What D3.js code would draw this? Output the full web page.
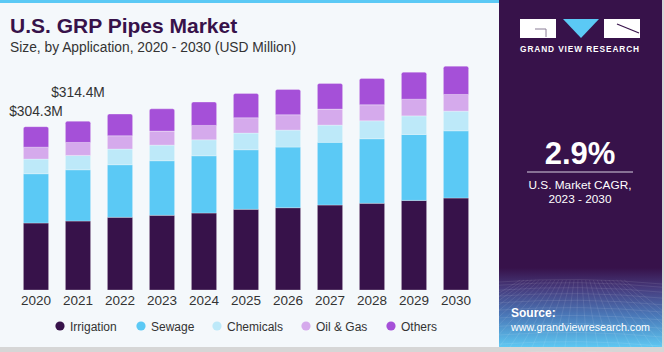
<!DOCTYPE html>
<html lang="en">

<head>
    <meta charset="UTF-8">
    <title>U.S. GRP Pipes Market</title>
    <style>
        body { margin: 0; background: #d6d6d6; }
        svg { display: block; font-family: "Liberation Sans", Arial, sans-serif; }
    </style>
</head>

<body>
    <script src="https://d3js.org/d3.v7.min.js"></script>
    <script>
        const years = ["2020", "2021", "2022", "2023", "2024", "2025", "2026", "2027", "2028", "2029", "2030"];
        const irrigation = [124.8, 128.5, 135.4, 139.1, 143.4, 150.3, 153.3, 158.3, 161.5, 167.0, 171.3];
        const sewage = [91.8, 95.5, 98.0, 101.7, 106.7, 111.0, 113.0, 116.8, 120.3, 122.9, 125.3];
        const chemicals = [27.3, 26.8, 29.2, 29.2, 29.8, 31.1, 31.7, 32.2, 33.5, 34.6, 36.7];
        const oilGas = [22.3, 24.2, 24.8, 26.1, 26.8, 28.5, 28.5, 29.8, 29.8, 31.1, 31.1];
        const others = [38.1, 39.4, 40.4, 41.5, 43.4, 45.4, 47.3, 47.9, 49.2, 50.3, 52.7];
        const seriesNames = ["Irrigation", "Sewage", "Chemicals", "Oil & Gas", "Others"];
        const seriesColors = ["#37124a", "#5bc9f5", "#bde9f9", "#d5aaec", "#a550d8"];
        const totalLabels = ["$304.3M", "$314.4M"];

        const width = 664;
        const height = 352;

        // build rows for d3.stack
        const keys = ["irrigation", "sewage", "chemicals", "oilGas", "others"];
        const rows = years.map((yr, i) => ({
            year: yr,
            irrigation: irrigation[i],
            sewage: sewage[i],
            chemicals: chemicals[i],
            oilGas: oilGas[i],
            others: others[i]
        }));
        const stacked = d3.stack().keys(keys)(rows);

        const svg = d3.select("body").append("svg")
            .attr("width", width)
            .attr("height", height);

        // card background
        svg.append("rect").attr("x", 0).attr("y", 0).attr("width", 662).attr("height", 347).attr("fill", "#f4f8fb");
        svg.append("rect").attr("x", 0).attr("y", 0).attr("width", 499).attr("height", 3).attr("fill", "#5bc9f5");

        // title
        svg.append("text").attr("x", 10).attr("y", 33)
            .text("U.S. GRP Pipes Market")
            .attr("font-size", 21).attr("font-weight", "bold").attr("fill", "#37124a");
        svg.append("text").attr("x", 10).attr("y", 52)
            .text("Size, by Application, 2020 - 2030 (USD Million)")
            .attr("font-size", 13.8).attr("fill", "#333");

        let x = d3.scaleBand()
            .domain(years)
            .range([15, 477])
            .paddingInner(0.4)
            .paddingOuter(0.2);

        let y = d3.scaleLinear()
            .domain([0, 304.3])
            .range([290, 126.7]);

        let color = d3.scaleOrdinal().domain(keys).range(seriesColors);

        const r = 2;
        function topPath(x0, y0, w, h) {
            return `M${x0},${y0 + h}V${y0 + r}Q${x0},${y0} ${x0 + r},${y0}H${x0 + w - r}Q${x0 + w},${y0} ${x0 + w},${y0 + r}V${y0 + h}Z`;
        }

        let layers = svg.append("g").selectAll("g")
            .data(stacked)
            .enter()
            .append("g")
            .attr("fill", d => color(d.key));

        layers.selectAll("path")
            .data(d => d.map(v => Object.assign(v, { key: d.key })))
            .enter()
            .append("path")
            .attr("d", d => {
                let x0 = x(d.data.year), w = x.bandwidth();
                let y0 = y(d[1]), h = y(d[0]) - y(d[1]);
                if (d.key === "others") return topPath(x0, y0, w, h);
                return `M${x0},${y0}h${w}v${h}h${-w}Z`;
            })
            .attr("stroke", "rgba(255,255,255,0.35)")
            .attr("stroke-width", 0.8);

        // total labels for first two years
        const lift = [11, 24];
        svg.append("g").selectAll("text")
            .data(totalLabels)
            .enter()
            .append("text")
            .attr("x", (d, i) => x(years[i]) + x.bandwidth() / 2)
            .attr("y", (d, i) => y(stacked[stacked.length - 1][i][1]) - lift[i])
            .attr("text-anchor", "middle")
            .attr("font-size", 13.8)
            .attr("fill", "#333")
            .text(d => d);

        // x axis labels
        let xAxis = d3.axisBottom(x).tickSize(0).tickPadding(5);
        let gx = svg.append("g").attr("transform", "translate(0,290)").call(xAxis);
        gx.select(".domain").remove();
        gx.selectAll("text").attr("font-size", 13.5).attr("fill", "#333")
            .attr("font-family", "Liberation Sans, Arial, sans-serif");

        // legend
        const legendX = [60, 141, 217, 306, 391];
        let legend = svg.append("g").selectAll("g")
            .data(seriesNames)
            .enter()
            .append("g")
            .attr("transform", (d, i) => `translate(${legendX[i]},326)`);
        legend.append("circle").attr("r", 4.6).attr("fill", (d, i) => seriesColors[i]);
        legend.append("text").attr("x", 10).attr("y", 4.5)
            .attr("font-size", 12).attr("fill", "#333").text(d => d);

        // right panel
        const panel = svg.append("g").attr("transform", "translate(499,0)");
        const defs = svg.append("defs");
        const grad = defs.append("linearGradient").attr("id", "fade")
            .attr("x1", 0).attr("y1", 0).attr("x2", 0).attr("y2", 1);
        grad.append("stop").attr("offset", "0%").attr("stop-color", "#37124a");
        grad.append("stop").attr("offset", "25%").attr("stop-color", "#463a7c");
        grad.append("stop").attr("offset", "60%").attr("stop-color", "#4a78b8");
        grad.append("stop").attr("offset", "100%").attr("stop-color", "#5ec8f2");

        panel.append("rect").attr("width", 163).attr("height", 347).attr("fill", "#37124a");
        panel.append("rect").attr("y", 268).attr("width", 163).attr("height", 79).attr("fill", "url(#fade)");

        // mesh decoration
        const mesh = panel.append("g").attr("stroke", "#ffffff").attr("stroke-opacity", 0.13)
            .attr("stroke-width", 0.7).attr("fill", "none");
        d3.range(0, 14).forEach(k => {
            let yy = 282 + Math.pow(k, 1.35) * 3.2;
            mesh.append("path").attr("d", `M0,${yy}Q80,${yy - 6} 163,${yy + 2}`);
        });
        d3.range(-8, 20).forEach(k => {
            let xb = k * 11;
            mesh.append("path").attr("d", `M${80 + (xb - 80) * 0.35},280L${xb},347`);
        });

        // logo
        panel.append("rect").attr("x", 21).attr("y", 19).attr("width", 36).attr("height", 19).attr("fill", "#fff");
        panel.append("path").attr("d", "M36,29H47V37").attr("stroke", "#8a7d96").attr("stroke-width", 1).attr("fill", "none");
        panel.append("path").attr("d", "M64,19H100L82,38Z").attr("fill", "#5bc9f5");
        panel.append("rect").attr("x", 105).attr("y", 19).attr("width", 36).attr("height", 19).attr("fill", "#fff");
        panel.append("path").attr("d", "M118,24L140,33").attr("stroke", "#37124a").attr("stroke-width", 1.2).attr("fill", "none");
        panel.append("text").attr("x", 81).attr("y", 52).attr("text-anchor", "middle")
            .attr("font-size", 8.3).attr("font-weight", "bold").attr("letter-spacing", 0.9)
            .attr("fill", "#fff").text("GRAND VIEW RESEARCH");

        // CAGR
        panel.append("text").attr("x", 81).attr("y", 164).attr("text-anchor", "middle")
            .attr("font-size", 31).attr("font-weight", "bold").attr("fill", "#fff").text("2.9%");
        panel.append("line").attr("x1", 28).attr("x2", 134).attr("y1", 172).attr("y2", 172)
            .attr("stroke", "#d8d0e0").attr("stroke-width", 1);
        panel.append("text").attr("x", 81).attr("y", 189).attr("text-anchor", "middle")
            .attr("font-size", 11.8).attr("fill", "#fff").text("U.S. Market CAGR,");
        panel.append("text").attr("x", 81).attr("y", 203).attr("text-anchor", "middle")
            .attr("font-size", 11.8).attr("fill", "#fff").text("2023 - 2030");

        // source
        panel.append("text").attr("x", 12).attr("y", 317)
            .attr("font-size", 12).attr("font-weight", "bold").attr("fill", "#fff").text("Source:");
        panel.append("text").attr("x", 12).attr("y", 331)
            .attr("font-size", 10.7).attr("fill", "#fff").text("www.grandviewresearch.com");
    </script>
</body>

</html>
